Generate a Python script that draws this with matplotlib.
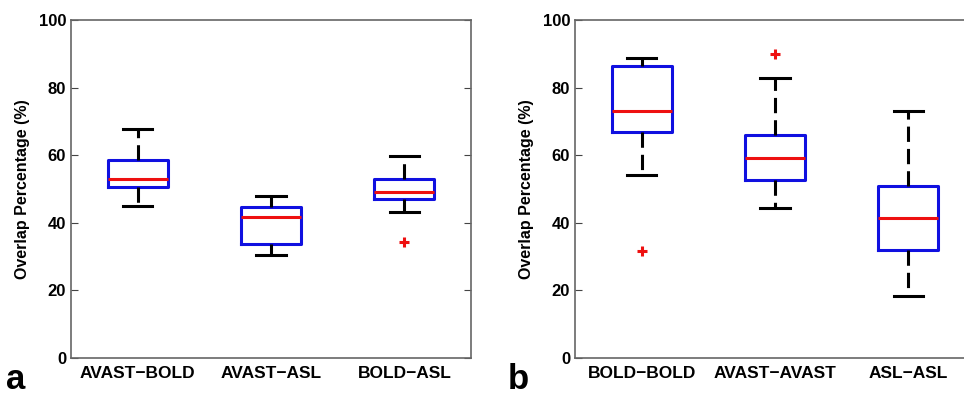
import matplotlib.pyplot as plt

plt.rcParams['font.family'] = ['Liberation Sans', 'DejaVu Sans']
plt.rcParams['font.weight'] = 'bold'

# panel a: between-method overlap
labels_a = ['AVAST\u2212BOLD', 'AVAST\u2212ASL', 'BOLD\u2212ASL']
whislo_a = [44.9, 30.6, 43.1]
q1_a = [50.5, 33.8, 47.0]
med_a = [53.0, 41.7, 49.2]
q3_a = [58.6, 44.8, 53.0]
whishi_a = [67.8, 47.8, 59.7]
fliers_a = [[], [], [34.3]]

# panel b: within-method overlap
labels_b = ['BOLD\u2212BOLD', 'AVAST\u2212AVAST', 'ASL\u2212ASL']
whislo_b = [54.1, 44.5, 18.2]
q1_b = [66.8, 52.8, 32.0]
med_b = [73.1, 59.1, 41.5]
q3_b = [86.4, 66.1, 51.0]
whishi_b = [88.9, 82.8, 73.1]
fliers_b = [[31.6], [89.9], []]

yticks = [0, 20, 40, 60, 80, 100]


def make_stats(labels, lo, q1, med, q3, hi, fl):
    return [dict(label=l, whislo=a, q1=b, med=c, q3=d, whishi=e, fliers=f)
            for l, a, b, c, d, e, f in zip(labels, lo, q1, med, q3, hi, fl)]


W, H = 964, 397
fig = plt.figure(figsize=(W / 100, H / 100), dpi=100)
ax_a = fig.add_axes([71 / W, 1 - 358 / H, 400 / W, 338 / H])
ax_b = fig.add_axes([575 / W, 1 - 358 / H, 400 / W, 338 / H])

panels = [
    (ax_a, make_stats(labels_a, whislo_a, q1_a, med_a, q3_a, whishi_a, fliers_a)),
    (ax_b, make_stats(labels_b, whislo_b, q1_b, med_b, q3_b, whishi_b, fliers_b)),
]

for ax, stats in panels:
    ax.bxp(stats, positions=[1, 2, 3], widths=0.45, showfliers=True,
           boxprops=dict(color='#1010e0', linewidth=2.2),
           medianprops=dict(color='#ee1010', linewidth=2.2),
           whiskerprops=dict(color='black', linewidth=2.2, linestyle=(0, (5, 2.3))),
           capprops=dict(color='black', linewidth=2.2),
           capwidths=0.22,
           flierprops=dict(marker='+', markeredgecolor='#ee1010', markersize=7,
                           markeredgewidth=2.2))
    ax.set_xlim(0.5, 3.5)
    ax.set_ylim(0, 100)
    ax.set_yticks(yticks)
    ax.set_ylabel('Overlap Percentage (%)', fontsize=11.5, fontweight='bold', labelpad=6)
    ax.tick_params(axis='y', direction='in', right=True, length=5, labelsize=12,
                   color='#444444')
    ax.tick_params(axis='x', length=0, labelsize=12.5, pad=6)
    for s in ax.spines.values():
        s.set_color('#666666')
        s.set_linewidth(1.2)

# panel letters
fig.text(6 / W, 1 / H, 'a', fontsize=25, fontweight='bold', ha='left', va='bottom')
fig.text(508 / W, 1 / H, 'b', fontsize=25, fontweight='bold', ha='left', va='bottom')

fig.savefig('out.png', dpi=100)
